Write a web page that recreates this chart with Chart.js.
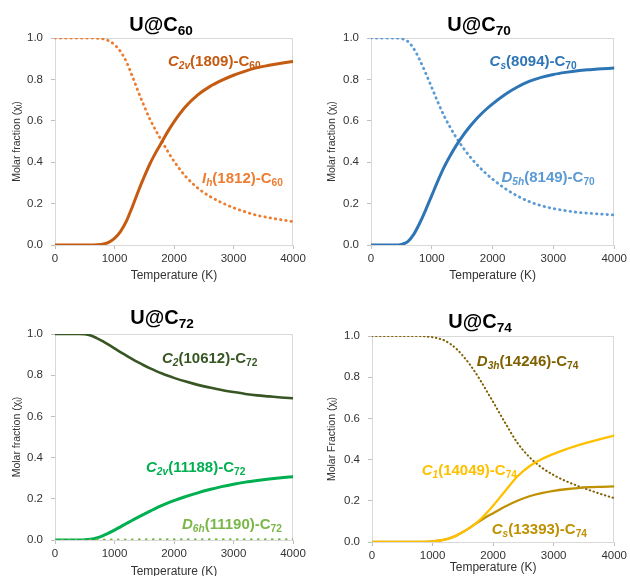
<!DOCTYPE html>
<html><head><meta charset="utf-8">
<script src="https://cdn.jsdelivr.net/npm/chart.js@4.4.1/dist/chart.umd.min.js"></script>
<style>
html,body{margin:0;padding:0;background:#fff;overflow:hidden;width:630px;height:576px;}
.p{position:absolute;}
canvas{display:block;}
</style></head><body>
<div class="p" style="left:0;top:0"><canvas id="c1" width="315" height="290"></canvas></div>
<div class="p" style="left:315px;top:0"><canvas id="c2" width="315" height="290"></canvas></div>
<div class="p" style="left:0;top:290px"><canvas id="c3" width="315" height="296"></canvas></div>
<div class="p" style="left:315px;top:290px"><canvas id="c4" width="315" height="296"></canvas></div>
<script>
// ---- data ----
const temperatures = [0,200,400,500,600,700,800,900,1000,1100,1200,1300,1400,1500,1600,1700,1800,1900,2000,2200,2400,2600,2800,3000,3200,3400,3600,3800,4000];
const xTickLabels = ['0','1000','2000','3000','4000'];
const yTickLabels = ['0.0','0.2','0.4','0.6','0.8','1.0'];

const c60_C2v = [0,0,0,0,0,0.001,0.004,0.013,0.032,0.065,0.115,0.185,0.26,0.33,0.395,0.45,0.50,0.55,0.595,0.67,0.725,0.765,0.795,0.82,0.84,0.857,0.868,0.878,0.887];
const c60_Ih  = [1,1,1,1,1,0.999,0.996,0.987,0.968,0.935,0.885,0.815,0.74,0.67,0.605,0.55,0.50,0.45,0.405,0.33,0.275,0.235,0.205,0.18,0.16,0.143,0.132,0.122,0.113];

const c70_Cs  = [0,0,0,0.003,0.015,0.05,0.105,0.17,0.24,0.31,0.375,0.43,0.48,0.524,0.563,0.598,0.629,0.657,0.682,0.726,0.762,0.79,0.81,0.824,0.834,0.842,0.847,0.851,0.855];
const c70_D5h = [1,1,1,0.997,0.985,0.95,0.895,0.83,0.76,0.69,0.625,0.57,0.52,0.476,0.437,0.402,0.371,0.343,0.318,0.274,0.238,0.21,0.19,0.176,0.166,0.158,0.153,0.149,0.145];

const c72_C2  = [1,1,1,0.999,0.993,0.98,0.965,0.948,0.93,0.912,0.895,0.878,0.862,0.847,0.833,0.82,0.808,0.797,0.787,0.769,0.753,0.74,0.728,0.718,0.709,0.702,0.697,0.692,0.688];
const c72_C2v = [0,0,0,0.001,0.004,0.01,0.02,0.033,0.048,0.064,0.08,0.096,0.111,0.126,0.14,0.155,0.168,0.18,0.191,0.211,0.229,0.245,0.259,0.271,0.281,0.289,0.296,0.302,0.307];
const c72_D6h = [0,0,0,0,0.001,0.002,0.002,0.002,0.002,0.002,0.002,0.002,0.003,0.003,0.003,0.003,0.003,0.003,0.003,0.003,0.003,0.003,0.003,0.003,0.003,0.003,0.003,0.003,0.003];

const c74_D3h = [1,1,1,1,1,1,1,0.998,0.994,0.988,0.978,0.96,0.936,0.904,0.868,0.826,0.78,0.73,0.68,0.578,0.482,0.412,0.362,0.325,0.296,0.272,0.251,0.231,0.213];
const c74_C1  = [0,0,0,0,0,0,0,0.001,0.003,0.006,0.011,0.02,0.032,0.048,0.066,0.087,0.113,0.143,0.176,0.248,0.318,0.368,0.402,0.428,0.45,0.469,0.486,0.502,0.517];
const c74_Cs  = [0,0,0,0,0,0,0,0.001,0.003,0.006,0.011,0.02,0.032,0.048,0.066,0.087,0.106,0.124,0.14,0.172,0.2,0.222,0.237,0.248,0.256,0.262,0.266,0.268,0.27];

// ---- helpers ----
const FAMILY = "'Liberation Sans', Arial, sans-serif";
Chart.defaults.font.family = FAMILY;
Chart.defaults.color = '#404040';

function pts(arr){ return temperatures.map((t,i)=>({x:t,y:arr[i]})); }

function drawRich(ctx, segs, x, y, size, color, align){
  const items = segs.map(s=>{
    const fs = s.sub ? size*0.68 : size;
    const font = (s.it?'italic ':'') + 'bold ' + fs + 'px ' + FAMILY;
    ctx.font = font;
    return {t:s.t, font, w:ctx.measureText(s.t).width, dy: s.sub ? size*0.22 : 0};
  });
  const total = items.reduce((a,b)=>a+b.w,0);
  let cx = align==='center' ? x - total/2 : x;
  ctx.fillStyle = color; ctx.textBaseline='alphabetic'; ctx.textAlign='left';
  items.forEach(it=>{ ctx.font = it.font; ctx.fillText(it.t, cx, y+it.dy); cx += it.w; });
}

const richPlugin = {
  id:'rich',
  beforeDatasetsDraw(chart){
    const {ctx, chartArea:a} = chart;
    ctx.save();
    ctx.strokeStyle = '#D9D9D9'; ctx.lineWidth = 1;
    ctx.strokeRect(Math.round(a.left)+0.5, Math.round(a.top)+0.5, Math.round(a.right-a.left)-1, Math.round(a.bottom-a.top));
    ctx.restore();
  },
  afterDatasetsDraw(chart, args, opts){
    const ctx = chart.ctx;
    ctx.save();
    if (opts.title) drawRich(ctx, opts.title.segs, opts.title.x, opts.title.y, 20, '#000', 'center');
    (opts.labels||[]).forEach(l=>{
      const px = chart.scales.x.getPixelForValue(l.x);
      const py = chart.scales.y.getPixelForValue(l.y);
      drawRich(ctx, l.segs, px, py, 15, l.color, 'left');
    });
    ctx.restore();
  }
};

function solid(arr, color, w){
  return {data:pts(arr), borderColor:color, borderWidth:w, pointRadius:0, fill:false, cubicInterpolationMode:'monotone', borderCapStyle:'round', borderJoinStyle:'round'};
}
function dotted(arr, color, w, gap){
  return {data:pts(arr), borderColor:color, borderWidth:w, pointRadius:0, fill:false, cubicInterpolationMode:'monotone', borderDash:[0.5, gap], borderCapStyle:'round'};
}

function makeChart(id, p){
  new Chart(document.getElementById(id), {
    type:'line',
    data:{datasets:p.datasets},
    plugins:[richPlugin],
    options:{
      responsive:false, animation:false, events:[],
      layout:{padding:{left:0, right:p.padRight, top:p.padTop, bottom:0}},
      plugins:{legend:{display:false}, tooltip:{enabled:false},
        rich:{title:p.title, labels:p.labels}},
      scales:{
        x:{type:'linear', min:0, max:4000,
          ticks:{stepSize:1000, padding:3, color:'#333', font:{size:11.5}, maxRotation:0,
            callback:(v,i)=>xTickLabels[i]},
          grid:{drawOnChartArea:false, tickLength:4, color:'#BFBFBF'},
          border:{display:true, color:'#D9D9D9'},
          title:{display:true, text:'Temperature (K)', color:'#333', font:{size:12}, padding:{top:0,bottom:p.xTitlePad}},
          afterFit:(s)=>{s.height = p.xHeight;}
        },
        y:{type:'linear', min:0, max:1,
          ticks:{stepSize:0.2, padding:8, color:'#333', font:{size:11.5},
            callback:(v,i)=>yTickLabels[i]},
          grid:{drawOnChartArea:false, tickLength:4, color:'#BFBFBF'},
          border:{display:true, color:'#D9D9D9'},
          title:{display:true, text:p.yTitle, color:'#333', font:{size:10.5}, padding:{top:11,bottom:0}},
          afterFit:(s)=>{s.width = p.yWidth;}
        }
      }
    }
  });
}

makeChart('c1', {
  yWidth:55, xHeight:45, padRight:22, padTop:38, xTitlePad:7,
  yTitle:'Molar fraction (χᵢ)',
  title:{segs:[{t:'U@C'},{t:'60',sub:true}], x:161, y:31},
  labels:[
    {segs:[{t:'C',it:true},{t:'2v',it:true,sub:true},{t:'(1809)-C'},{t:'60',sub:true}], x:1898, y:0.865, color:'#C55A11'},
    {segs:[{t:'I',it:true},{t:'h',it:true,sub:true},{t:'(1812)-C'},{t:'60',sub:true}], x:2470, y:0.30, color:'#ED7D31'}
  ],
  datasets:[ solid(c60_C2v,'#C55A11',3), dotted(c60_Ih,'#ED7D31',2.8,4.8) ]
});

makeChart('c2', {
  yWidth:56, xHeight:45, padRight:13, padTop:38, xTitlePad:7,
  yTitle:'Molar fraction (χᵢ)',
  title:{segs:[{t:'U@C'},{t:'70',sub:true}], x:164, y:31},
  labels:[
    {segs:[{t:'C',it:true},{t:'s',it:true,sub:true},{t:'(8094)-C'},{t:'70',sub:true}], x:1951, y:0.865, color:'#2E75B6'},
    {segs:[{t:'D',it:true},{t:'5h',it:true,sub:true},{t:'(8149)-C'},{t:'70',sub:true}], x:2146, y:0.306, color:'#5B9BD5'}
  ],
  datasets:[ solid(c70_Cs,'#2E75B6',3), dotted(c70_D5h,'#5B9BD5',2.8,4.8) ]
});

makeChart('c3', {
  yWidth:55, xHeight:46, padRight:22, padTop:44, xTitlePad:7,
  yTitle:'Molar fraction (χᵢ)',
  title:{segs:[{t:'U@C'},{t:'72',sub:true}], x:162, y:34},
  labels:[
    {segs:[{t:'C',it:true},{t:'2',it:true,sub:true},{t:'(10612)-C'},{t:'72',sub:true}], x:1798, y:0.86, color:'#375623'},
    {segs:[{t:'C',it:true},{t:'2v',it:true,sub:true},{t:'(11188)-C'},{t:'72',sub:true}], x:1529, y:0.332, color:'#00B050'},
    {segs:[{t:'D',it:true},{t:'6h',it:true,sub:true},{t:'(11190)-C'},{t:'72',sub:true}], x:2134, y:0.053, color:'#7AB648'}
  ],
  datasets:[ dotted(c72_D6h,'#7AB648',2.2,6.5), solid(c72_C2,'#375623',2.6), solid(c72_C2v,'#00B050',3) ]
});

makeChart('c4', {
  yWidth:57, xHeight:44, padRight:13, padTop:46, xTitlePad:11,
  yTitle:'Molar Fraction (χᵢ)',
  title:{segs:[{t:'U@C'},{t:'74',sub:true}], x:165, y:38},
  labels:[
    {segs:[{t:'D',it:true},{t:'3h',it:true,sub:true},{t:'(14246)-C'},{t:'74',sub:true}], x:1731, y:0.856, color:'#7F6000'},
    {segs:[{t:'C',it:true},{t:'1',it:true,sub:true},{t:'(14049)-C'},{t:'74',sub:true}], x:820, y:0.325, color:'#FFC000'},
    {segs:[{t:'C',it:true},{t:'s',it:true,sub:true},{t:'(13393)-C'},{t:'74',sub:true}], x:1976, y:0.039, color:'#BF9000'}
  ],
  datasets:[ solid(c74_C1,'#FFC000',2.3), solid(c74_Cs,'#BF9000',2.3), dotted(c74_D3h,'#7F6000',2,3.5) ]
});
</script>
</body></html>
